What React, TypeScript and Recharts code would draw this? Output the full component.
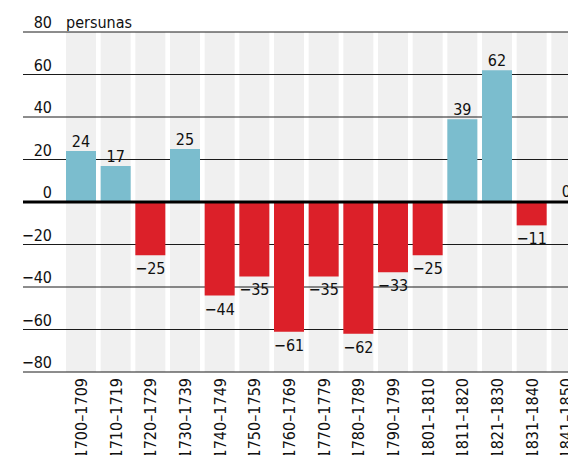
import React from "react";
import {
  BarChart,
  Bar,
  XAxis,
  YAxis,
  CartesianGrid,
  ReferenceLine,
  Cell,
  LabelList,
} from "recharts";

const periods = [
  "1700–1709",
  "1710–1719",
  "1720–1729",
  "1730–1739",
  "1740–1749",
  "1750–1759",
  "1760–1769",
  "1770–1779",
  "1780–1789",
  "1790–1799",
  "1801–1810",
  "1811–1820",
  "1821–1830",
  "1831–1840",
  "1841–1850",
];

const saldo = [24, 17, -25, 25, -44, -35, -61, -35, -62, -33, -25, 39, 62, -11, 0];

const yTicks = [-80, -60, -40, -20, 0, 20, 40, 60, 80];

const unit = "persunas";

const data = periods.map((name, i) => ({ name, value: saldo[i] }));

const FONT = "'DejaVu Sans Condensed', 'DejaVu Sans', sans-serif";
const BLUE = "#7bbdce";
const RED = "#dc2029";

const W = 584;
const H = 455;
const margin = { top: 32, right: 0, left: 0, bottom: 0 };

function fmt(v: number) {
  return v < 0 ? "\u2212" + Math.abs(v) : String(v);
}

function YTick(props: any) {
  const { y, payload } = props;
  const v = payload.value;
  return (
    <g>
      <text x={52} y={y - 4} textAnchor="end" fontSize={16} fill="#111" fontFamily={FONT}>
        {fmt(v)}
      </text>
      {v === 80 && (
        <text x={66} y={y - 4} fontSize={16} fill="#111" fontFamily={FONT}>
          {unit}
        </text>
      )}
    </g>
  );
}

function XTick(props: any) {
  const { x, payload } = props;
  const ty = 378;
  return (
    <text
      x={x}
      y={ty}
      dy="0.36em"
      transform={`rotate(-90, ${x}, ${ty})`}
      textAnchor="end"
      fontSize={16}
      fill="#111"
      fontFamily={FONT}
    >
      {payload.value}
    </text>
  );
}

function ValueLabel(props: any) {
  const vb = props.viewBox ?? props;
  const x = vb.x ?? props.x;
  const y = vb.y ?? props.y;
  const w = vb.width ?? props.width;
  const h = vb.height ?? props.height;
  const v = Number(props.value);
  const top = Math.min(y, y + h);
  const bottom = Math.max(y, y + h);
  const cx = x + w / 2;
  return (
    <text
      x={cx}
      y={v < 0 ? bottom + 19 : v === 0 ? y - 4 : top - 4}
      textAnchor="middle"
      fontSize={16}
      fill="#111"
      fontFamily={FONT}
    >
      {fmt(v)}
    </text>
  );
}

export default function App() {
  return (
    <div
      style={{
        position: "absolute",
        left: 0,
        top: 0,
        width: 568,
        height: 455,
        overflow: "hidden",
        background: "#fff",
      }}
    >
      {/* grey column bands, under the grid lines */}
      <div style={{ position: "absolute", left: 0, top: 0 }}>
        <BarChart width={W} height={H} data={data} margin={margin}>
          <XAxis
            dataKey="name"
            height={83}
            padding={{ left: 41, right: 0 }}
            axisLine={false}
            tickLine={false}
            tick={false}
            interval={0}
          />
          <YAxis
            width={23}
            domain={[-80, 80]}
            ticks={yTicks}
            axisLine={false}
            tickLine={false}
            tick={false}
          />
          <Bar
            dataKey="value"
            barSize={30}
            minPointSize={1}
            fill="transparent"
            background={{ fill: "#f0f0f0" }}
            isAnimationActive={false}
          />
        </BarChart>
      </div>

      {/* grid, bars, labels */}
      <div style={{ position: "absolute", left: 0, top: 0 }}>
        <BarChart width={W} height={H} data={data} margin={margin}>
          <CartesianGrid vertical={false} stroke="#1a1a1a" strokeWidth={1} />
          <XAxis
            dataKey="name"
            height={83}
            padding={{ left: 41, right: 0 }}
            axisLine={false}
            tickLine={false}
            tick={<XTick />}
            interval={0}
          />
          <YAxis
            width={23}
            domain={[-80, 80]}
            ticks={yTicks}
            axisLine={false}
            tickLine={false}
            tick={<YTick />}
            interval={0}
          />
          <Bar dataKey="value" barSize={30} minPointSize={1} isAnimationActive={false}>
            {data.map((d, i) => (
              <Cell key={i} fill={d.value < 0 ? RED : BLUE} />
            ))}
            <LabelList dataKey="value" content={<ValueLabel />} />
          </Bar>
          <ReferenceLine y={0} stroke="#000" strokeWidth={3} />
        </BarChart>
      </div>
    </div>
  );
}
